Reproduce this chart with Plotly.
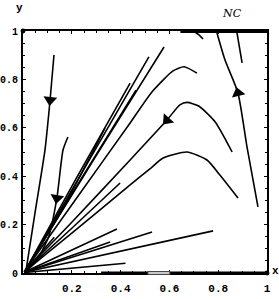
import math
import plotly.graph_objects as go

# ---- data ----
# trajectories, points listed in the direction of motion where known
traj_A_x = [0.127, 0.111, 0.090, 0.051, 0.012]
traj_A_y = [0.901, 0.715, 0.508, 0.260, 0.008]
traj_B_x = [0.184, 0.164, 0.139, 0.105, 0.055, 0.015]
traj_B_y = [0.562, 0.508, 0.310, 0.150, 0.050, 0.008]
short_x = [0.005, 0.128]
short_y = [0.004, 0.148]
S1_x = [0.008, 0.300, 0.578]
S1_y = [0.008, 0.485, 0.934]
S2_x = [0.008, 0.270, 0.516]
S2_y = [0.008, 0.464, 0.893]
S3_x = [0.008, 0.220, 0.439]
S3_y = [0.008, 0.394, 0.785]
S3b_x = [0.008, 0.230, 0.463]
S3b_y = [0.008, 0.375, 0.756]
S4_x = [0.008, 0.170, 0.336]
S4_y = [0.008, 0.280, 0.599]
C1_x = [0.005, 0.220, 0.439, 0.530, 0.615, 0.660, 0.713]
C1_y = [0.005, 0.310, 0.620, 0.750, 0.835, 0.852, 0.826]
C2_x = [0.857, 0.787, 0.720, 0.672, 0.643, 0.590, 0.439, 0.200, 0.005]
C2_y = [0.500, 0.625, 0.690, 0.705, 0.695, 0.632, 0.467, 0.210, 0.005]
C3_x = [0.005, 0.200, 0.439, 0.520, 0.574, 0.672, 0.754, 0.807, 0.881]
C3_y = [0.005, 0.165, 0.364, 0.430, 0.475, 0.500, 0.467, 0.405, 0.310]
M_x = [0.005, 0.200, 0.398]
M_y = [0.005, 0.185, 0.372]
La_x = [0.005, 0.385]
La_y = [0.003, 0.182]
Lb_x = [0.005, 0.357]
Lb_y = [0.003, 0.128]
L2_x = [0.005, 0.529]
L2_y = [0.003, 0.169]
L1_x = [0.005, 0.779]
L1_y = [0.003, 0.174]
Lc_x = [0.005, 0.420]
Lc_y = [0.002, 0.040]
R1_x = [0.963, 0.918, 0.881, 0.828, 0.795]
R1_y = [0.273, 0.521, 0.744, 0.880, 0.992]
R2_x = [0.877, 0.898]
R2_y = [0.992, 0.868]
hook_x = [0.705, 0.720, 0.738]
hook_y = [0.996, 0.985, 0.967]

# nullcline segments on the frame
nc_top_x = [0.645, 1.0]
nc_bottom_x = [0.32, 1.0]
gray_box_x = [0.512, 0.602]

x_ticks = [0.2, 0.4, 0.6, 0.8, 1.0]
x_ticktext = ["0.2", "0.4", "0.6", "0.8", "1"]
y_ticks = [0, 0.2, 0.4, 0.6, 0.8, 1.0]
y_ticktext = ["0", "0.2", "0.4", "0.6", "0.8", "1"]

trajs = [
    (traj_A_x, traj_A_y), (traj_B_x, traj_B_y), (short_x, short_y),
    (S1_x, S1_y), (S2_x, S2_y), (S3_x, S3_y), (S3b_x, S3b_y), (S4_x, S4_y),
    (C1_x, C1_y), (C2_x, C2_y), (C3_x, C3_y), (M_x, M_y),
    (La_x, La_y), (Lb_x, Lb_y), (L2_x, L2_y), (L1_x, L1_y), (Lc_x, Lc_y),
    (R1_x, R1_y), (R2_x, R2_y), (hook_x, hook_y),
]
# arrowheads: (trajectory, index of the arrow point)
arrows = [((traj_A_x, traj_A_y), 1), ((traj_B_x, traj_B_y), 2),
          ((C2_x, C2_y), 5), ((R1_x, R1_y), 2)]

W, H = 279, 299
ML, MR, MT, MB = 23, 12, 31, 26
PW, PH = W - ML - MR, H - MT - MB

fig = go.Figure()
for xs, ys in trajs:
    fig.add_trace(go.Scatter(x=xs, y=ys, mode="lines",
                             line=dict(color="black", width=1.6, shape="spline", smoothing=0.6),
                             hoverinfo="skip", showlegend=False))

for (xs, ys), i in arrows:
    dx = (xs[i + 1] - xs[i - 1]) * PW
    dy = (ys[i + 1] - ys[i - 1]) * PH
    ang = math.degrees(math.atan2(dx, dy))
    fig.add_trace(go.Scatter(x=[xs[i]], y=[ys[i]], mode="markers",
                             marker=dict(symbol="triangle-up", size=12, color="black",
                                         angle=ang, line=dict(width=0)),
                             hoverinfo="skip", showlegend=False))

shapes = [
    dict(type="line", xref="x", yref="paper", x0=nc_top_x[0], x1=nc_top_x[1], y0=1, y1=1,
         line=dict(color="black", width=4)),
    dict(type="line", xref="x", yref="paper", x0=nc_bottom_x[0], x1=nc_bottom_x[1], y0=0, y1=0,
         line=dict(color="black", width=3)),
    dict(type="rect", xref="x", yref="paper", x0=gray_box_x[0], x1=gray_box_x[1],
         y0=-0.006, y1=0.006, fillcolor="#cfcfcf", line=dict(color="#444", width=1)),
    dict(type="circle", xref="paper", yref="paper", x0=-0.01, x1=0.01, y0=0.99, y1=1.01,
         fillcolor="black", line=dict(width=0)),
    dict(type="circle", xref="paper", yref="paper", x0=0.99, x1=1.01, y0=-0.01, y1=0.01,
         fillcolor="black", line=dict(width=0)),
]

xfont = dict(family="Liberation Mono", size=11, color="black", weight="bold")
yfont = dict(family="Liberation Mono", size=10, color="black", weight="bold")
fig.update_layout(
    width=W, height=H, autosize=False,
    margin=dict(l=ML, r=MR, t=MT, b=MB, pad=0),
    paper_bgcolor="white", plot_bgcolor="white",
    shapes=shapes,
    xaxis=dict(range=[0, 1], tickvals=x_ticks, ticktext=x_ticktext, showgrid=False,
               zeroline=False, showline=True, linecolor="black", linewidth=2,
               mirror="ticks", ticks="inside", ticklen=3, tickcolor="black",
               ticklabelstandoff=4, automargin=False,
               tickfont=xfont, minor=dict(dtick=0.05, ticks="inside", ticklen=2, tickcolor="black")),
    yaxis=dict(range=[0, 1], tickvals=y_ticks, ticktext=y_ticktext, showgrid=False,
               zeroline=False, showline=True, linecolor="black", linewidth=2,
               mirror="ticks", ticks="inside", ticklen=3, tickcolor="black",
               ticklabelstandoff=1, automargin=False,
               tickfont=yfont, minor=dict(dtick=0.05, ticks="inside", ticklen=2, tickcolor="black")),
    annotations=[
        dict(text="x", xref="paper", yref="paper", x=1, y=0, xanchor="left", yanchor="middle",
             xshift=3, yshift=2, showarrow=False,
             font=dict(family="Liberation Mono", size=11, color="black", weight="bold")),
        dict(text="y", xref="paper", yref="paper", x=0, y=1, xanchor="right", yanchor="bottom",
             xshift=2, yshift=15, showarrow=False,
             font=dict(family="Liberation Mono", size=11, color="black", weight="bold")),
        dict(text="<i>NC</i>", xref="x", yref="paper", x=0.857, y=1, xanchor="center", yanchor="bottom",
             yshift=9, showarrow=False, font=dict(family="DejaVu Serif", size=11, color="black")),
    ],
)
fig.write_html("out.html")
